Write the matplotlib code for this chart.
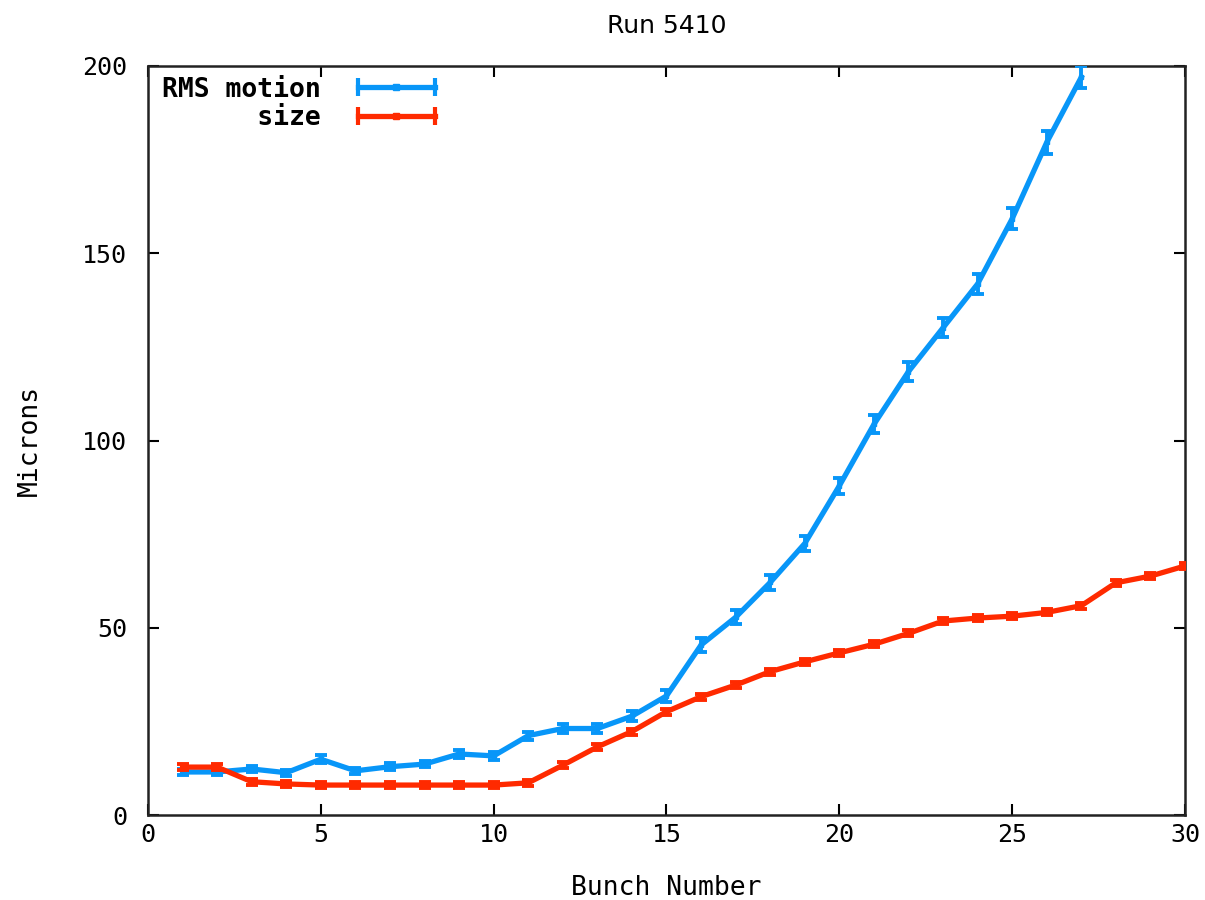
import numpy as np
import matplotlib.pyplot as plt
from matplotlib.lines import Line2D
from matplotlib.legend_handler import HandlerLine2D, HandlerTuple

# bunch-by-bunch beam measurements, run 5410
bunch_rms = list(range(1, 28))
rms_motion = [11.5, 11.5, 12.3, 11.3, 14.9, 11.8, 12.9, 13.6, 16.3, 15.8,
              21.2, 23.1, 23.1, 26.4, 31.8, 45.4, 52.8, 62.1, 72.5, 87.9,
              104.3, 118.4, 130.1, 141.8, 159.2, 179.6, 197.0]
rms_err = [0.8, 0.8, 0.8, 0.8, 1.0, 0.8, 0.9, 0.9, 1.0, 1.0,
           1.1, 1.2, 1.2, 1.3, 1.5, 1.8, 1.9, 2.0, 2.1, 2.2,
           2.4, 2.5, 2.5, 2.6, 2.8, 3.0, 3.0]

bunch_size = list(range(1, 31))
beam_size = [12.8, 12.8, 8.9, 8.3, 8.0, 8.0, 8.0, 8.0, 8.0, 8.0,
             8.6, 13.3, 18.2, 22.3, 27.6, 31.6, 34.7, 38.3, 40.9, 43.3,
             45.6, 48.5, 51.8, 52.6, 53.1, 54.1, 55.9, 62.0, 63.8, 66.5]
size_err = [0.8] * 30

blue = '#0896f8'
red = '#ff2a00'
mono = 'DejaVu Sans Mono'

fig = plt.figure(figsize=(12.05, 9), dpi=100)
ax = fig.add_axes([0.1228, 0.0944, 0.8606, 0.8323])

ax.errorbar(bunch_rms, rms_motion, yerr=rms_err, color=blue, lw=3.8,
            marker='s', ms=3.5, capsize=4.5, capthick=2.8, elinewidth=2.8,
            zorder=3)
ax.errorbar(bunch_size, beam_size, yerr=size_err, color=red, lw=3.8,
            marker='s', ms=3.5, capsize=4.5, capthick=2.8, elinewidth=2.8,
            zorder=4)

ax.set_xlim(0, 30)
ax.set_ylim(0, 200)
ax.set_xticks(np.arange(0, 31, 5))
ax.set_yticks(np.arange(0, 201, 50))
ax.tick_params(direction='in', length=8, width=1.5, top=True, right=True,
               labelsize=18)
ax.tick_params(axis='x', pad=6)
ax.tick_params(axis='y', pad=15)
for lab in ax.get_xticklabels() + ax.get_yticklabels():
    lab.set_family(mono)
for sp in ax.spines.values():
    sp.set_linewidth(1.8)
    sp.set_color('#222222')

ax.set_title('Run 5410', fontsize=18, family=['Liberation Sans Narrow', 'DejaVu Sans'],
             pad=24)
ax.set_xlabel('Bunch Number', fontsize=19, family=mono, labelpad=20)
ax.set_ylabel('Microns', fontsize=19, family=mono, labelpad=28)

# legend: text on the left, errorbar-style sample on the right
handles = []
hmap = {}
for c in (blue, red):
    caps = Line2D([], [], color=c, lw=3.8, marker='|', ms=13, mew=3)
    dot = Line2D([], [], color=c, lw=0, marker='s', ms=4)
    hmap[caps] = HandlerLine2D(numpoints=2)
    hmap[dot] = HandlerLine2D(numpoints=1)
    handles.append((caps, dot))
hmap[tuple] = HandlerTuple(ndivide=1)
leg = ax.legend(handles, ['RMS motion', '      size'], handler_map=hmap,
                loc='upper left', bbox_to_anchor=(0.005, 0.998), frameon=False,
                markerfirst=False, handlelength=3.5, handletextpad=1.1,
                labelspacing=0.1, borderaxespad=0.05, borderpad=0.3,
                prop={'family': mono, 'size': 19, 'weight': 'bold'})

fig.savefig('out.png', dpi=100)
